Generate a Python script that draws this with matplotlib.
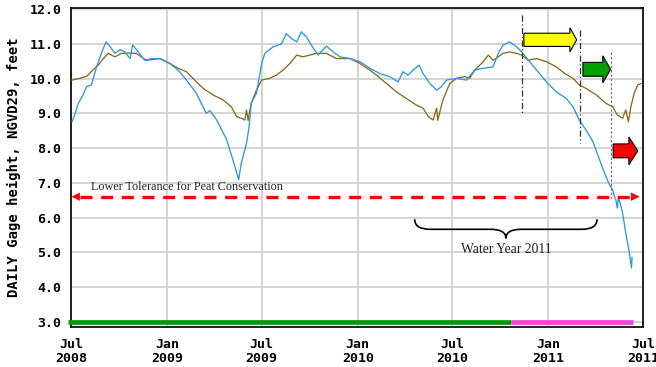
import matplotlib
matplotlib.use("Agg")
import matplotlib.pyplot as plt
import matplotlib.dates as mdates
from matplotlib.patches import FancyArrow, Polygon, PathPatch
from matplotlib.path import Path
import pandas as pd

# ---- data -------------------------------------------------------------
well_dates = [
    "2008-07-03", "2008-07-08", "2008-07-15", "2008-07-24", "2008-07-31", "2008-08-09",
    "2008-08-19", "2008-08-29", "2008-09-06", "2008-09-14", "2008-09-23", "2008-10-03",
    "2008-10-12", "2008-10-22", "2008-10-27", "2008-11-07", "2008-11-19", "2008-12-02",
    "2008-12-18", "2009-01-06", "2009-01-22", "2009-02-07", "2009-02-26", "2009-03-17",
    "2009-03-24", "2009-04-06", "2009-04-25", "2009-05-07", "2009-05-18", "2009-05-23",
    "2009-06-02", "2009-06-07", "2009-06-11", "2009-06-21", "2009-07-01", "2009-07-07",
    "2009-07-23", "2009-08-08", "2009-08-17", "2009-08-27", "2009-09-06", "2009-09-15",
    "2009-09-25", "2009-10-04", "2009-10-17", "2009-11-02", "2009-11-15", "2009-11-28",
    "2009-12-17", "2010-01-05", "2010-01-24", "2010-02-12", "2010-03-03", "2010-03-19",
    "2010-03-29", "2010-04-07", "2010-04-17", "2010-04-28", "2010-05-06", "2010-05-19",
    "2010-06-01", "2010-06-10", "2010-06-20", "2010-07-09", "2010-07-28", "2010-08-13",
    "2010-08-29", "2010-09-17", "2010-09-27", "2010-10-06", "2010-10-19", "2010-11-01",
    "2010-11-11", "2010-11-26", "2010-12-12", "2010-12-28", "2011-01-16", "2011-02-04",
    "2011-02-17", "2011-03-01", "2011-03-14", "2011-03-27", "2011-04-09", "2011-04-21",
    "2011-04-28", "2011-05-04", "2011-05-07", "2011-05-10", "2011-05-13", "2011-05-15",
    "2011-05-23", "2011-05-29", "2011-06-05", "2011-06-09", "2011-06-10",
]
well_ft = [
    8.76, 8.95, 9.29, 9.53, 9.77, 9.82,
    10.34, 10.77, 11.06, 10.92, 10.73, 10.84,
    10.77, 10.58, 10.97, 10.77, 10.53, 10.58,
    10.58, 10.44, 10.25, 9.96, 9.58, 9.00,
    9.08, 8.81, 8.24, 7.66, 7.09, 7.57,
    8.14, 8.62, 9.29, 9.58, 10.44, 10.73,
    10.92, 11.00, 11.30, 11.16, 11.06, 11.35,
    11.20, 10.97, 10.68, 10.94, 10.77, 10.63,
    10.58, 10.49, 10.30, 10.15, 10.06, 9.91,
    10.20, 10.10, 10.25, 10.39, 10.15, 9.86,
    9.67, 9.77, 9.96, 10.01, 9.96, 10.25,
    10.30, 10.34, 10.73, 10.97, 11.06, 10.92,
    10.77, 10.49, 10.20, 9.91, 9.62, 9.43,
    9.19, 8.81, 8.52, 8.19, 7.66, 7.18,
    6.94, 6.80, 6.61, 6.51, 6.27, 6.60,
    6.13, 5.55, 4.98, 4.55, 4.85,
]

canal_dates = [
    "2008-07-03", "2008-07-18", "2008-07-31", "2008-08-12", "2008-08-22", "2008-09-01",
    "2008-09-10", "2008-09-23", "2008-10-06", "2008-10-18", "2008-11-03", "2008-11-22",
    "2008-12-18", "2009-01-06", "2009-01-22", "2009-02-07", "2009-02-26", "2009-03-11",
    "2009-03-30", "2009-04-18", "2009-05-04", "2009-05-14", "2009-05-23", "2009-05-30",
    "2009-06-02", "2009-06-05", "2009-06-11", "2009-06-21", "2009-07-01", "2009-07-16",
    "2009-07-29", "2009-08-11", "2009-08-24", "2009-09-06", "2009-09-18", "2009-10-01",
    "2009-10-14", "2009-11-02", "2009-11-21", "2009-12-17", "2010-01-05", "2010-01-24",
    "2010-02-06", "2010-02-25", "2010-03-16", "2010-04-04", "2010-04-23", "2010-05-06",
    "2010-05-16", "2010-05-25", "2010-06-01", "2010-06-03", "2010-06-13", "2010-06-26",
    "2010-07-09", "2010-07-25", "2010-08-03", "2010-08-13", "2010-08-26", "2010-09-08",
    "2010-09-17", "2010-09-27", "2010-10-06", "2010-10-19", "2010-11-01", "2010-11-11",
    "2010-11-23", "2010-12-09", "2010-12-28", "2011-01-16", "2011-02-01", "2011-02-17",
    "2011-03-01", "2011-03-14", "2011-04-03", "2011-04-21", "2011-05-04", "2011-05-13",
    "2011-05-23", "2011-05-29", "2011-06-03", "2011-06-08", "2011-06-14", "2011-06-21",
    "2011-06-27",
]
canal_ft = [
    9.96, 10.01, 10.07, 10.25, 10.39, 10.58,
    10.73, 10.63, 10.73, 10.74, 10.73, 10.53,
    10.58, 10.44, 10.30, 10.20, 9.91, 9.72,
    9.53, 9.39, 9.19, 8.91, 8.86, 8.81,
    9.10, 8.80, 9.29, 9.67, 9.96, 10.01,
    10.10, 10.25, 10.44, 10.68, 10.63, 10.68,
    10.73, 10.73, 10.58, 10.58, 10.44, 10.25,
    10.10, 9.86, 9.62, 9.43, 9.24, 9.15,
    8.91, 8.81, 9.15, 8.80, 9.39, 9.86,
    10.01, 10.06, 10.01, 10.25, 10.44, 10.68,
    10.53, 10.63, 10.73, 10.77, 10.73, 10.68,
    10.53, 10.58, 10.49, 10.34, 10.15, 10.01,
    9.82, 9.72, 9.53, 9.29, 9.19, 8.95,
    8.86, 9.10, 8.76, 9.20, 9.58, 9.82,
    9.86,
]

tolerance_ft = 6.6
approved_span = ("2008-06-26", "2010-10-22")
provisional_span = ("2010-10-22", "2011-06-12")

tick_dates = ["2008-07-01", "2009-01-01", "2009-07-01", "2010-01-01",
              "2010-07-01", "2011-01-01", "2011-07-01"]
tick_labels = ["Jul\n2008", "Jan\n2009", "Jul\n2009", "Jan\n2010",
               "Jul\n2010", "Jan\n2011", "Jul\n2011"]
y_ticks = [3, 4, 5, 6, 7, 8, 9, 10, 11, 12]


def dn(s):
    return mdates.date2num(pd.Timestamp(s))


# ---- figure -----------------------------------------------------------
MONO = "DejaVu Sans Mono"
SERIF = "Liberation Serif"

fig = plt.figure(figsize=(6.56, 3.67), dpi=100)
ax = fig.add_axes([71 / 656, 1 - 327 / 367, 572 / 656, (327 - 8) / 367])

ax.set_xlim(dn("2008-07-01"), dn("2011-07-01"))
ax.set_ylim(2.845, 12.037)

ax.grid(True, color="#d4d4d4", linewidth=1.4)
ax.set_axisbelow(True)
for sp in ax.spines.values():
    sp.set_color("#111111")
    sp.set_linewidth(1.3)

ax.set_yticks(y_ticks)
ax.set_yticklabels([f"{v:.1f}" for v in y_ticks], fontfamily=MONO,
                   fontweight="bold", fontsize=9.5)
ax.set_xticks([dn(d) for d in tick_dates])
ax.set_xticklabels(tick_labels, fontfamily=MONO, fontweight="bold",
                   fontsize=9.5, linespacing=1.1)
ax.tick_params(axis="both", length=0)
ax.tick_params(axis="y", pad=7)
ax.tick_params(axis="x", pad=8)
ax.set_ylabel("DAILY Gage height, NGVD29, feet", fontfamily=MONO,
              fontweight="bold", fontsize=10, labelpad=6)

# data series
ax.plot([dn(d) for d in canal_dates], canal_ft, color="#8a6a1c", lw=0.95, zorder=3)
ax.plot([dn(d) for d in well_dates], well_ft, color="#2e97db", lw=0.95, zorder=4)

# approval status bar
ax.plot([dn(approved_span[0]), dn(approved_span[1])], [3.0, 3.0],
        color="#009a00", lw=3.4, solid_capstyle="butt", clip_on=False, zorder=5)
ax.plot([dn(provisional_span[0]), dn(provisional_span[1])], [3.0, 3.0],
        color="#f044dc", lw=3.4, solid_capstyle="butt", clip_on=False, zorder=5)

# tolerance line with arrowheads
x_left_tip, x_left_base = dn("2008-07-02"), dn("2008-07-18")
x_right_base, x_right_tip = dn("2011-06-08"), dn("2011-06-25")
ax.plot([x_left_base, x_right_base], [tolerance_ft, tolerance_ft], color="#ff0000",
        lw=2.4, linestyle=(0, (3.6, 2.6)), zorder=6)
hh = 0.12
ax.add_patch(Polygon([(x_left_tip, tolerance_ft), (x_left_base, tolerance_ft + hh),
                      (x_left_base, tolerance_ft - hh)], closed=True,
                     color="#ff0000", lw=0, zorder=6))
ax.add_patch(Polygon([(x_right_tip, tolerance_ft), (x_right_base, tolerance_ft + hh),
                      (x_right_base, tolerance_ft - hh)], closed=True,
                     color="#ff0000", lw=0, zorder=6))
ax.text(dn("2008-08-09"), 6.8, "Lower Tolerance for Peat Conservation",
        fontfamily=SERIF, fontsize=8.7, color="#222222", va="baseline", zorder=7)

# marker lines
ax.plot([dn("2010-11-12")] * 2, [11.84, 9.01], color="#333333", lw=0.9,
        linestyle=(0, (5, 2, 1, 2)), zorder=6)
ax.plot([dn("2011-03-03")] * 2, [11.40, 8.14], color="#333333", lw=0.9,
        linestyle=(0, (5, 2, 1, 2)), zorder=6)
ax.plot([dn("2011-04-30")] * 2, [10.77, 6.56], color="#777777", lw=0.9,
        linestyle=(0, (2, 1.5)), zorder=6)


def block_arrow(start, end, yc, body, head, head_days, face):
    x0, x1 = dn(start), dn(end)
    ax.add_patch(FancyArrow(x0, yc, x1 - x0, 0, width=body, head_width=head,
                            head_length=head_days, length_includes_head=True,
                            facecolor=face, edgecolor="#000000", lw=0.8, zorder=8))


block_arrow("2010-11-15", "2011-02-24", 11.12, 0.38, 0.70, 13, "#ffff00")
block_arrow("2011-03-08", "2011-04-30", 10.27, 0.40, 0.78, 15, "#00a000")
block_arrow("2011-05-05", "2011-06-21", 7.92, 0.40, 0.80, 17, "#ff0000")

# water-year brace
x0, x1 = dn("2010-04-20"), dn("2011-04-04")
xc = (x0 + x1) / 2
ytop, ymid, ytip = 5.95, 5.66, 5.40
r = 29
verts = [(x0, ytop), (x0, ymid), (x0 + r, ymid), (xc - r, ymid),
         (xc, ymid), (xc, ytip), (xc, ymid), (xc + r, ymid),
         (x1 - r, ymid), (x1, ymid), (x1, ytop)]
codes = [Path.MOVETO, Path.CURVE3, Path.CURVE3, Path.LINETO,
         Path.CURVE3, Path.CURVE3, Path.CURVE3, Path.CURVE3,
         Path.LINETO, Path.CURVE3, Path.CURVE3]
ax.add_patch(PathPatch(Path(verts, codes), facecolor="none", edgecolor="#000000",
                       lw=1.2, zorder=7))
ax.text(xc, 5.09, "Water Year 2011", fontfamily=SERIF, fontsize=9.8,
        color="#222222", ha="center", va="center", zorder=7)

fig.savefig("out.png", dpi=100)
